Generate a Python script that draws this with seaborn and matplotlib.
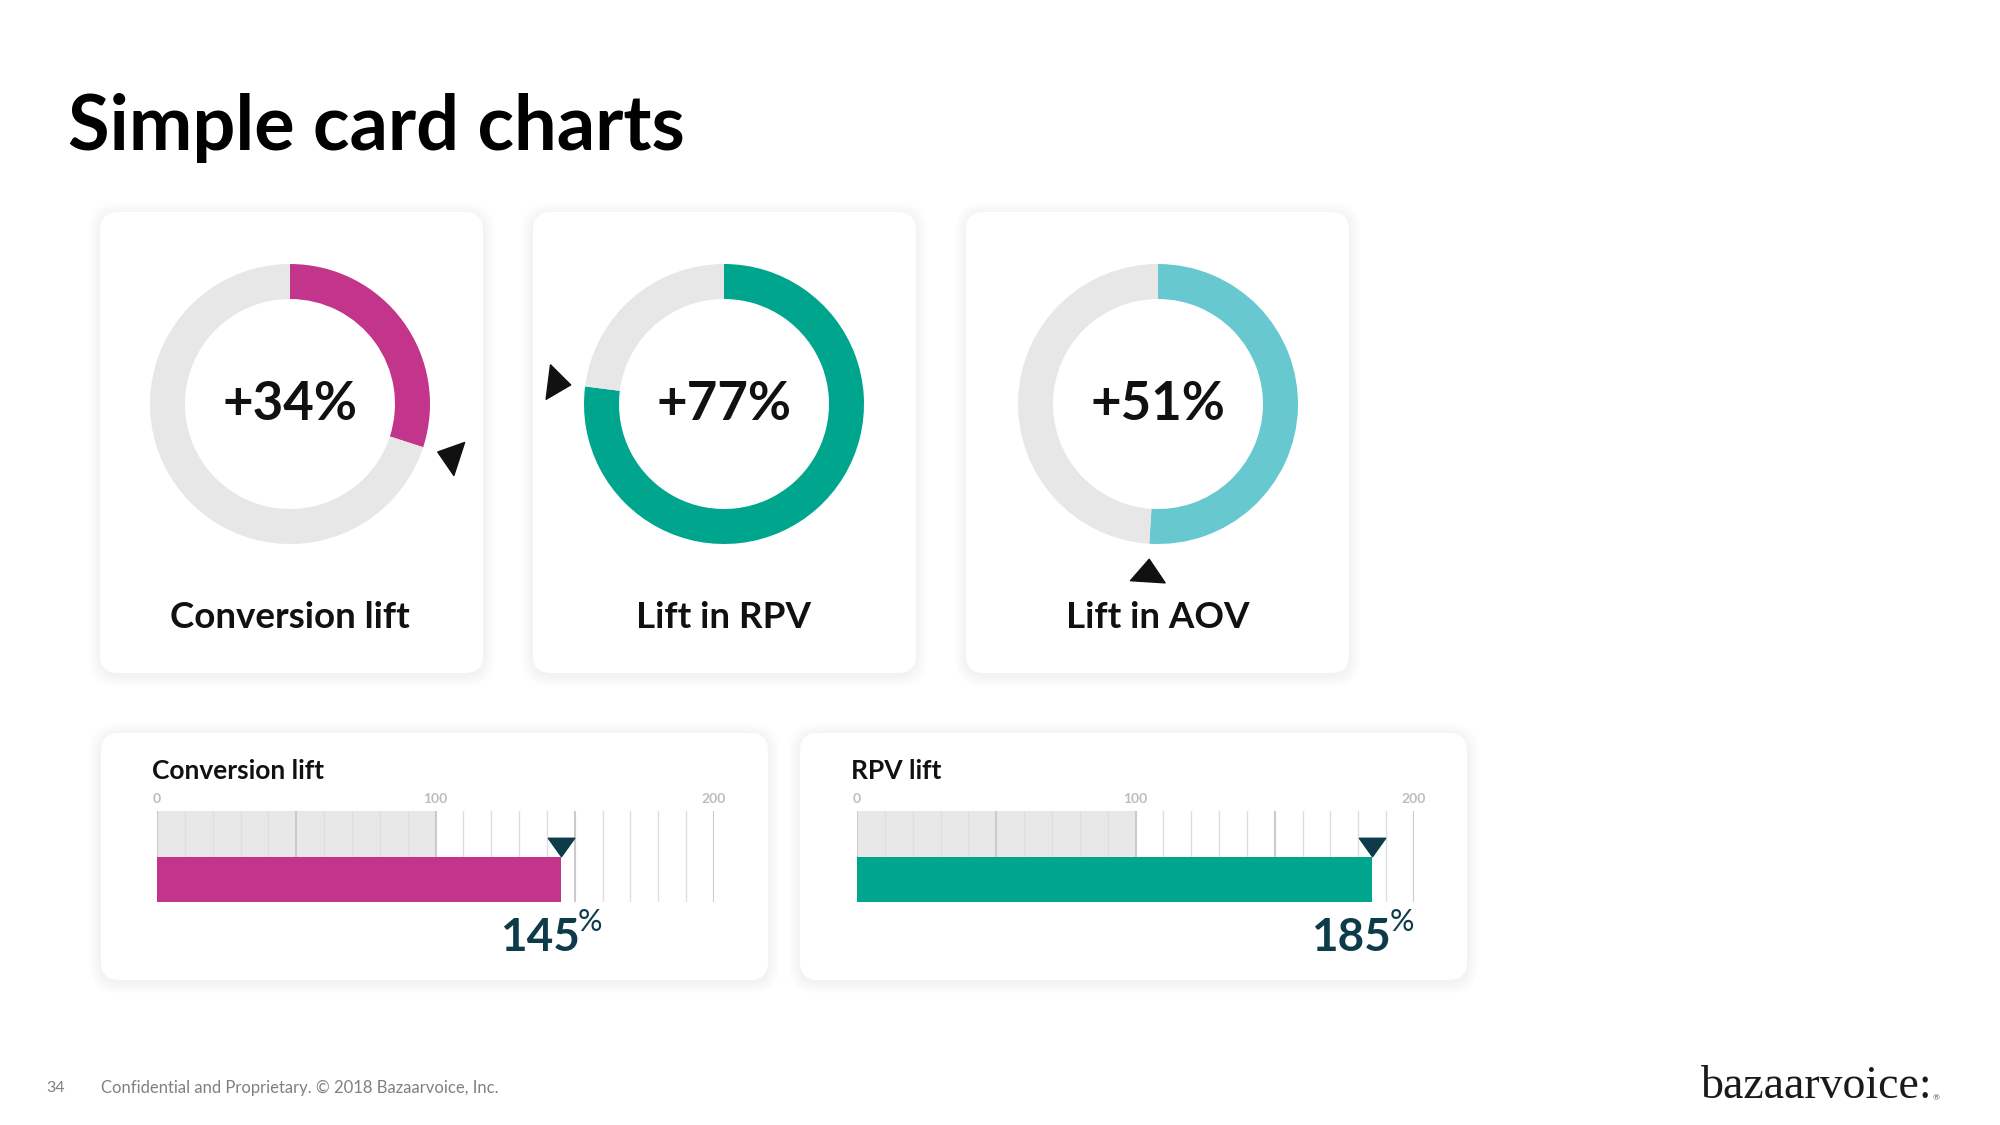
import numpy as np
import pandas as pd
import matplotlib.pyplot as plt
import seaborn as sns
from matplotlib.patches import FancyBboxPatch
from matplotlib.markers import MarkerStyle
from matplotlib.path import Path
from matplotlib.transforms import Affine2D

# ring cards
donut_labels = ["Conversion lift", "Lift in RPV", "Lift in AOV"]
donut_values = ["+34%", "+77%", "+51%"]
donut_share = [30, 77, 51]  # filled part of the ring as it is drawn
donut_colors = ["#c2358a", "#00a58e", "#68c8d0"]

# bullet cards
bar_titles = ["Conversion lift", "RPV lift"]
bar_rows = ["Baseline", "Lift"]
baseline = [100, 100]
lift = [145, 185]
bar_colors = ["#c2358a", "#00a58e"]
tick_values = [0, 100, 200]

title = "Simple card charts"
footer = "Confidential and Proprietary. \u00a9 2018 Bazaarvoice, Inc."
page_num = "34"

W, H = 2000, 1125
RING_GREY = "#e7e7e7"
DARK = "#0d3b4a"

sns.set_theme(style="white")
plt.rcParams["font.family"] = ["Lato", "DejaVu Sans"]


def frac(x, y, w, h):
    # pixel box (top-left origin) -> figure fraction
    return [x / W, 1 - (y + h) / H, w / W, h / H]


def card(ax, x, y, w, h):
    # soft shadow then the white card
    for k in range(12, 0, -1):
        ax.add_patch(FancyBboxPatch((x - k, y - k + 2), w + 2 * k, h + 2 * k,
                                    boxstyle=f"round,pad=0,rounding_size={18 + k}",
                                    fc="black", ec="none", alpha=0.0055, zorder=1))
    ax.add_patch(FancyBboxPatch((x, y), w, h, boxstyle="round,pad=0,rounding_size=18",
                                fc="white", ec="none", zorder=2))


def tri_marker(rot, squash=0.65):
    verts = [(0, squash), (-1, -squash), (1, -squash), (0, squash)]
    path = Path(verts, [Path.MOVETO, Path.LINETO, Path.LINETO, Path.CLOSEPOLY])
    return MarkerStyle(path, transform=Affine2D().rotate_deg(rot))


fig = plt.figure(figsize=(20, 11.25), dpi=100, facecolor="white")
bg = fig.add_axes([0, 0, 1, 1])
bg.set_xlim(0, W)
bg.set_ylim(H, 0)
bg.axis("off")

bg.text(68, 150, title, fontsize=54.5, fontweight="bold", color="black", va="baseline")

# ---- ring cards
card_x = [100, 533, 966]
ring_cx = [290, 724, 1158]
ring_cy = 404
R = 140
for i in range(3):
    card(bg, card_x[i], 212, 383, 461)
    ax = fig.add_axes(frac(ring_cx[i] - 200, ring_cy - 200, 400, 400), zorder=3)
    ax.pie([donut_share[i], 100 - donut_share[i]], colors=[donut_colors[i], RING_GREY],
           startangle=90, counterclock=False, radius=1,
           wedgeprops=dict(width=35 / R, edgecolor="none"))
    lim = 200 / R
    ax.set_xlim(-lim, lim)
    ax.set_ylim(-lim, lim)
    ax.set_aspect("equal")
    ax.axis("off")
    theta = 90 - 3.6 * donut_share[i]
    r = 1.19
    ax.plot(r * np.cos(np.deg2rad(theta)), r * np.sin(np.deg2rad(theta)),
            marker=tri_marker(theta + 90), ms=25, color="#111111", ls="none", clip_on=False)
    ax.text(0, 0, donut_values[i], ha="center", va="center", fontsize=38,
            fontweight="bold", color="#111111")
    bg.text(ring_cx[i], 618, donut_labels[i], ha="center", va="center", fontsize=26.5,
            fontweight="bold", color="#111111", zorder=5)

# ---- bullet cards
bar_card_x = [101, 800]
axis_x0 = [157, 857]
for i in range(2):
    card(bg, bar_card_x[i], 733, 667, 247)
    bg.text(bar_card_x[i] + 51, 771, bar_titles[i], ha="left", va="center", fontsize=19,
            fontweight="bold", color="#111111", zorder=5)
    ax = fig.add_axes(frac(axis_x0[i], 811, 557, 91), zorder=3)
    df = pd.DataFrame({"row": bar_rows, "value": [baseline[i], lift[i]]})
    sns.barplot(data=df, x="value", y="row", hue="row", orient="h", width=1.0,
                palette=["#e8e8e8", bar_colors[i]], legend=False, ax=ax, saturation=1)
    ax.patches[0].set_zorder(1)
    ax.patches[1].set_zorder(3)
    for p in ax.patches:
        p.set_edgecolor("none")
    for v in range(0, 201, 10):
        major = v % 50 == 0
        ax.axvline(v, color="#cbcbcb" if major else "#dedede", lw=1.5 if major else 1.0,
                   zorder=2)
    ax.set_xlim(0, 200)
    ax.set_ylim(1.5, -0.5)
    ax.set_xticks(tick_values)
    ax.xaxis.tick_top()
    ax.tick_params(axis="x", length=0, pad=4, labelsize=10, labelcolor="#bdbdbd")
    for t in ax.get_xticklabels():
        t.set_fontweight("bold")
    ax.set_yticks([])
    ax.set_xlabel("")
    ax.set_ylabel("")
    sns.despine(ax=ax, left=True, bottom=True)
    ax.patch.set_alpha(0)

    ax.plot(lift[i], 0.3, marker=tri_marker(180, 0.7), ms=19, color=DARK, ls="none",
            clip_on=False, zorder=4)
    ax.annotate(str(lift[i]), xy=(lift[i], 1.5), xytext=(19 * 0.72, -49 * 0.72),
                textcoords="offset points", ha="right", va="baseline", fontsize=33,
                fontweight="bold", color=DARK, annotation_clip=False)
    ax.annotate("%", xy=(lift[i], 1.5), xytext=(17 * 0.72, -29 * 0.72),
                textcoords="offset points", ha="left", va="baseline", fontsize=22,
                color=DARK, annotation_clip=False)

# ---- footer
bg.text(46, 1088, page_num, fontsize=11.5, color="#808080", va="center")
bg.text(101, 1088, footer, fontsize=12, color="#808080", va="center")
bg.text(1701, 1098, "bazaarvoice:", fontsize=33, color="#1a1a1a", va="baseline",
        family="Liberation Serif")
bg.text(1933, 1100, "\u00ae", fontsize=6, color="#555555", va="baseline")

fig.savefig("out.png", dpi=100, facecolor="white")
